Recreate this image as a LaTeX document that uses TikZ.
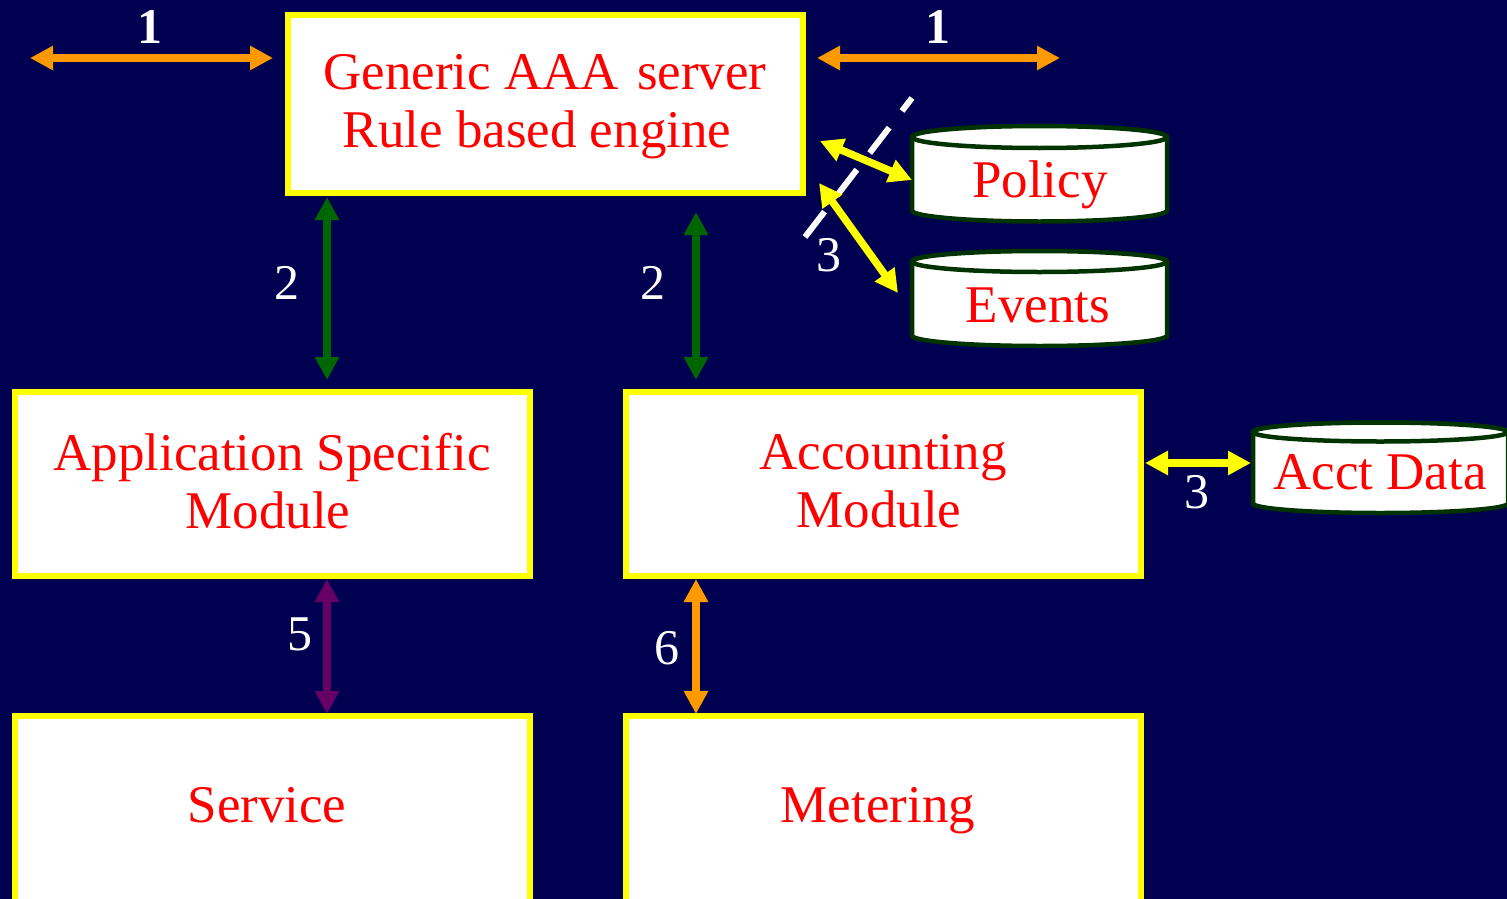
\documentclass[tikz,border=0pt]{standalone}
\usepackage{fontspec}
\setmainfont{Liberation Serif}
\usetikzlibrary{arrows.meta}
\definecolor{bg}{RGB}{0,0,80}
\definecolor{boxyellow}{RGB}{255,255,0}
\definecolor{txtred}{RGB}{255,0,0}
\definecolor{arrorange}{RGB}{255,153,0}
\definecolor{arrgreen}{RGB}{0,102,0}
\definecolor{arrpurple}{RGB}{102,0,102}
\definecolor{cylgreen}{RGB}{0,51,0}
\tikzset{
  box/.style={draw=boxyellow, fill=white, line width=6pt, inner sep=0pt},
  redtext/.style={text=txtred, font=\fontsize{53}{58}\selectfont, align=center, inner sep=0pt},
  numtext/.style={text=white, font=\fontsize{50}{58}\selectfont, inner sep=0pt},
  numbold/.style={text=white, font=\fontsize{50}{58}\selectfont\bfseries, inner sep=0pt},
  dblarrow/.style={line width=7.5pt, {Triangle[length=23pt,width=23pt]}-{Triangle[length=23pt,width=23pt]}},
  cylline/.style={draw=cylgreen, fill=white, line width=4.5pt},
  cutline/.style={draw=white, line width=6pt, dash pattern=on 32pt off 21pt}
}
\newcommand\dbcyl[5]{%
  \filldraw[cylline] (#1-#4,#2) -- (#1-#4,#3) arc[start angle=180,end angle=0,x radius=#4,y radius=#5] -- (#1+#4,#2) arc[start angle=0,end angle=-180,x radius=#4,y radius=#5] -- cycle;
  \draw[cylline] (#1,#2) ellipse[x radius=#4,y radius=#5];}
\begin{document}
\begin{tikzpicture}[x=1pt,y=-1pt]
\fill[bg] (0,0) rectangle (1507,899);
\useasboundingbox (0,0) rectangle (1507,899);

% boxes
\node[box, minimum width=515pt, minimum height=178pt] (gen) at (545.5,104) {};
\node[redtext] (gent) at (545,107) {Generic AAA\hspace{0.34em}server\\Rule based engine\kern16pt};
\node[box, minimum width=515pt, minimum height=184pt] (app) at (272.5,484) {};
\node[redtext] (appt) at (272,481) {Application Specific\\Module\kern8pt};
\node[box, minimum width=515pt, minimum height=184pt] (acc) at (883.5,484) {};
\node[redtext] (acct) at (883,481) {Accounting\\Module\kern8pt};
\node[box, minimum width=515pt, minimum height=200pt] (svc) at (272.5,816) {};
\node[redtext, anchor=base] (svct) at (267,822) {Service};
\node[box, minimum width=515pt, minimum height=200pt] (met) at (883.5,816) {};
\node[redtext, anchor=base] (mett) at (878,822) {Metering};

% databases
\dbcyl{1039.5}{137}{210.5}{127.5}{11}
\node[redtext, anchor=base] (pol) at (1040,197) {Policy};
\dbcyl{1039.5}{261.5}{335.5}{127.5}{10.5}
\node[redtext, anchor=base] (evt) at (1038,322) {Events};
\dbcyl{1380.5}{432}{503.5}{127.5}{9.5}
\node[redtext, anchor=base] (adat) at (1380,489) {Acct Data};

% arrow end points
\coordinate (o1a) at (30,58);   \coordinate (o1b) at (273,58);
\coordinate (o2a) at (817,58);  \coordinate (o2b) at (1060,58);
\coordinate (g1a) at (327,197); \coordinate (g1b) at (327,380);
\coordinate (g2a) at (696,212); \coordinate (g2b) at (696,380);
\coordinate (y1a) at (820,141); \coordinate (y1b) at (912,180);
\coordinate (y2a) at (819,183); \coordinate (y2b) at (898,293);
\coordinate (y3a) at (1145,463); \coordinate (y3b) at (1251,463);
\coordinate (p5a) at (327,579); \coordinate (p5b) at (327,714);
\coordinate (o6a) at (696,579); \coordinate (o6b) at (696,714);
\coordinate (cuta) at (805,237); \coordinate (cutb) at (912,98);

\draw[dblarrow, arrorange] (o1a) -- (o1b);
\draw[dblarrow, arrorange] (o2a) -- (o2b);
\draw[dblarrow, arrgreen] (g1a) -- (g1b);
\draw[dblarrow, arrgreen] (g2a) -- (g2b);
\draw[cutline] (cuta) -- (cutb);
\draw[dblarrow, boxyellow] (y1a) -- (y1b);
\draw[dblarrow, boxyellow] (y2a) -- (y2b);
\draw[dblarrow, boxyellow] (y3a) -- (y3b);
\draw[dblarrow, arrpurple] (p5a) -- (p5b);
\draw[dblarrow, arrorange] (o6a) -- (o6b);

% labels
\node[numbold] (l1a) at (150,27) {1};
\node[numbold] (l1b) at (938,27) {1};
\node[numtext] (l2a) at (287,283) {2};
\node[numtext] (l2b) at (653,283) {2};
\node[numtext] (l3a) at (829,255) {3};
\node[numtext] (l3b) at (1197,492) {3};
\node[numtext] (l5) at (300,634) {5};
\node[numtext] (l6) at (667,648) {6};
\end{tikzpicture}
\end{document}
